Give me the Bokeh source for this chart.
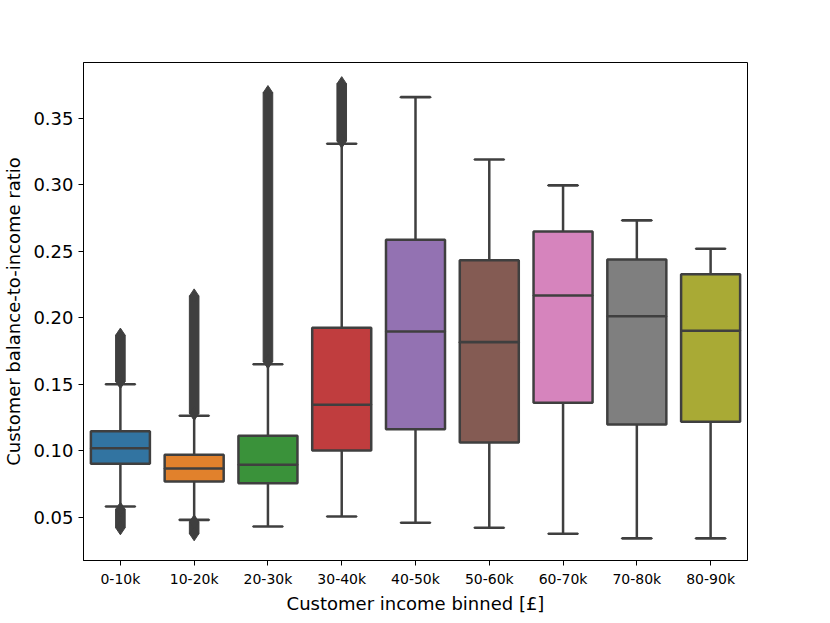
import numpy as np
from bokeh.plotting import figure
from bokeh.models import Range1d, FixedTicker, NumeralTickFormatter, ColumnDataSource
from bokeh.embed import file_html
from bokeh.resources import INLINE

categories = ["0-10k", "10-20k", "20-30k", "30-40k", "40-50k", "50-60k", "60-70k", "70-80k", "80-90k"]
whisker_low = [0.058, 0.048, 0.043, 0.0505, 0.0458, 0.042, 0.0375, 0.034, 0.034]
q1 = [0.0902, 0.0769, 0.0756, 0.1002, 0.1162, 0.1062, 0.136, 0.1198, 0.1218]
median = [0.1019, 0.0866, 0.0894, 0.1346, 0.1897, 0.1817, 0.2168, 0.2012, 0.1903]
q3 = [0.1147, 0.097, 0.1112, 0.1925, 0.2587, 0.2434, 0.265, 0.2439, 0.2328]
whisker_high = [0.150, 0.1263, 0.1651, 0.331, 0.366, 0.3191, 0.2996, 0.2733, 0.252]
# outlier extents (None where there are none)
out_hi_lo = [0.152, 0.128, 0.167, 0.333, None, None, None, None, None]
out_hi_hi = [0.187, 0.2165, 0.3695, 0.3762, None, None, None, None, None]
out_lo_lo = [0.042, 0.0375, None, None, None, None, None, None, None]
out_lo_hi = [0.056, 0.0465, None, None, None, None, None, None, None]
colors = ["#3274a1", "#e1812c", "#3a923a", "#c03d3e", "#9372b2", "#845b53", "#d684bd", "#7f7f7f", "#a9aa35"]
y_ticks = [0.05, 0.10, 0.15, 0.20, 0.25, 0.30, 0.35]

edge = "#3f3f3f"
xs = list(range(len(categories)))

p = figure(frame_width=664, frame_height=498, output_backend="svg", toolbar_location=None,
           min_border_left=78, min_border_right=70, min_border_top=62, min_border_bottom=50,
           x_range=Range1d(-0.5, len(categories) - 0.5), y_range=Range1d(0.0174, 0.3921))
p.background_fill_color = "white"
p.border_fill_color = "white"
p.grid.visible = False
p.outline_line_color = "black"
p.outline_line_width = 1

src = ColumnDataSource(dict(x=xs, lo=whisker_low, q1=q1, med=median, q3=q3, hi=whisker_high, color=colors))

# whiskers
p.segment(x0="x", y0="q3", x1="x", y1="hi", source=src, line_color=edge, line_width=2.5)
p.segment(x0="x", y0="lo", x1="x", y1="q1", source=src, line_color=edge, line_width=2.5)
# caps
p.rect(x="x", y="hi", width=0.4, height=0.0001, source=src, line_color=edge, line_width=2.5, fill_alpha=0)
p.rect(x="x", y="lo", width=0.4, height=0.0001, source=src, line_color=edge, line_width=2.5, fill_alpha=0)

# outliers
for lo_list, hi_list in ((out_hi_lo, out_hi_hi), (out_lo_lo, out_lo_hi)):
    ox, ob, ot = [], [], []
    for i, (a, b) in enumerate(zip(lo_list, hi_list)):
        if a is not None:
            ox.append(xs[i]); ob.append(a); ot.append(b)
    if ox:
        os_ = ColumnDataSource(dict(x=ox, b=ob, t=ot))
        p.vbar(x="x", bottom="b", top="t", width=0.13, source=os_, fill_color=edge, line_color=edge, line_width=1)
        p.scatter(x="x", y="b", source=os_, marker="diamond", size=14, fill_color=edge, line_color=edge)
        p.scatter(x="x", y="t", source=os_, marker="diamond", size=14, fill_color=edge, line_color=edge)

# boxes
p.vbar(x="x", bottom="q1", top="q3", width=0.8, source=src, fill_color="color", line_color=edge, line_width=2.5)
p.rect(x="x", y="med", width=0.8, height=0.0001, source=src, line_color=edge, line_width=2.5, fill_alpha=0)

# axes
p.xaxis.ticker = FixedTicker(ticks=xs)
p.xaxis.major_label_overrides = {i: c for i, c in enumerate(categories)}
p.yaxis.ticker = FixedTicker(ticks=y_ticks)
p.yaxis.formatter = NumeralTickFormatter(format="0.00")
for ax in (p.xaxis, p.yaxis):
    ax.axis_line_color = "black"
    ax.major_tick_line_color = "black"
    ax.major_tick_out = 5
    ax.major_tick_in = 0
    ax.minor_tick_line_color = None
    ax.major_label_text_font = "DejaVu Sans"
    ax.major_label_text_color = "black"
    ax.axis_label_text_font = "DejaVu Sans"
    ax.axis_label_text_font_style = "normal"
    ax.axis_label_text_color = "black"
    ax.axis_label_text_font_size = "18px"
p.xaxis.major_label_text_font_size = "14px"
p.yaxis.major_label_text_font_size = "18px"
p.xaxis.axis_label = "Customer income binned [£]"
p.yaxis.axis_label = "Customer balance-to-income ratio"
p.xaxis.axis_label_standoff = 3
p.yaxis.axis_label_standoff = 6

open("out.html", "w").write(file_html(p, INLINE))
